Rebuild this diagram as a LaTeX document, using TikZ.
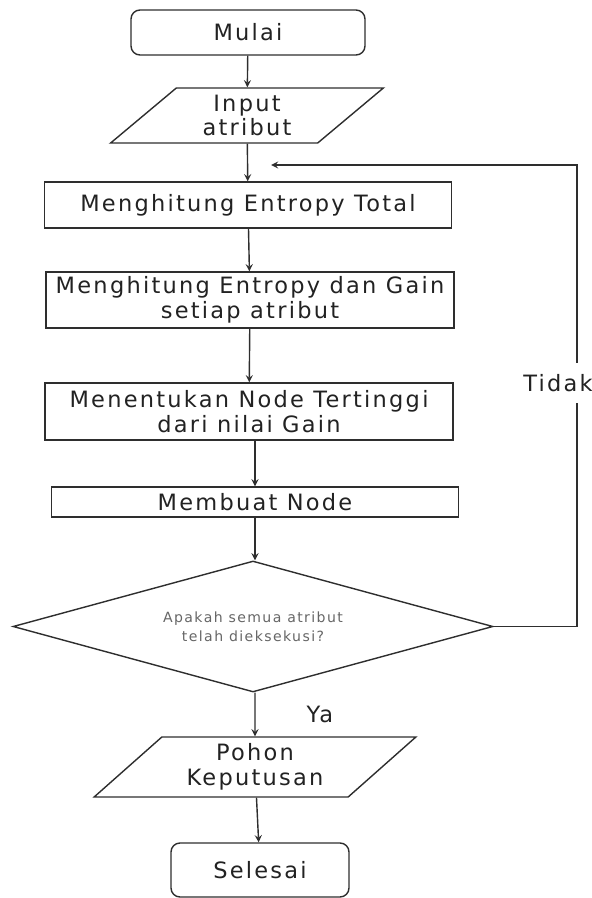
\documentclass[tikz,border=0pt]{standalone}
\usepackage{fontspec}
\setmainfont{DejaVu Sans}[LetterSpace=10]
\usepackage{xcolor}
\usepackage{tikz}
\usetikzlibrary{shapes.geometric}
\definecolor{ln}{HTML}{2E2E2E}
\definecolor{tx}{HTML}{222222}
\tikzset{term/.style={rectangle,rounded corners=0.18cm,draw=ln,line width=0.8pt,text=tx}}
\tikzset{blk/.style={rectangle,draw=ln,line width=0.8pt,text=tx,align=center,inner sep=0pt}}
\tikzset{io/.style={trapezium,trapezium stretches=true,trapezium left angle=45,trapezium right angle=135,draw=ln,line width=0.8pt,text=tx,align=center,inner sep=0pt}}
\tikzset{cond/.style={diamond,aspect=3.66,draw=ln,line width=0.8pt,text=black!60,align=center,inner sep=0pt,font=\fontsize{8}{10.8}\selectfont}}

\begin{document}
\begin{tikzpicture}[>=stealth,font=\fontsize{12.8}{14}\selectfont]
        \useasboundingbox (0,0) rectangle (11.84,-17.96);

        \node[term,minimum width=4.68cm,minimum height=0.9cm] (mulai) at (4.96,-0.65) {Mulai};
        \node[io,minimum width=5.48cm,minimum height=1.1cm] (input) at (4.94,-2.31) {Input\\atribut};
        \node[blk,minimum width=8.14cm,minimum height=0.92cm] (total) at (4.96,-4.1) {Menghitung Entropy Total};
        \node[blk,minimum width=8.16cm,minimum height=1.12cm] (gain) at (5.0,-6.0) {Menghitung Entropy dan Gain\\setiap atribut};
        \node[blk,minimum width=8.16cm,minimum height=1.14cm] (tinggi) at (4.98,-8.23) {Menentukan Node Tertinggi\\dari nilai Gain};
        \node[blk,minimum width=8.14cm,minimum height=0.6cm] (buat) at (5.1,-10.04) {Membuat Node};
        \node[cond,minimum width=9.6cm,minimum height=2.62cm] (cek) at (5.06,-12.53) {Apakah semua atribut\\telah dieksekusi?};
        \node[io,trapezium left angle=43,trapezium right angle=137,minimum width=6.44cm,minimum height=1.2cm] (pohon) at (5.1,-15.34) {Pohon\\Keputusan};
        \node[term,minimum width=3.56cm,minimum height=1.08cm] (selesai) at (5.2,-17.4) {Selesai};

        \coordinate (turn) at (11.54,-3.3);
        \coordinate (back) at (5.42,-3.3);

        \draw [->,ln,line width=0.8pt] (mulai) -- (input);
        \draw [->,ln,line width=0.8pt] (input) -- (total);
        \draw [->,ln,line width=0.8pt] (total) -- (gain);
        \draw [->,ln,line width=0.8pt] (gain) -- (tinggi);
        \draw [->,ln,line width=0.8pt] (tinggi.south -| buat) -- (buat);
        \draw [->,ln,line width=0.8pt] (buat) -- (buat |- cek.north);
        \draw [->,ln,line width=0.8pt] (buat |- cek.south) -- node[right=0.9cm,text=tx]{Ya} (pohon);
        \draw [->,ln,line width=0.8pt] (pohon) -- (selesai);
        \draw [->,ln,line width=0.8pt] (cek.east) -| node[pos=0.764,fill=white,xshift=-0.38cm,minimum height=0.8cm,text=tx]{Tidak} (turn) -- (back);
    \end{tikzpicture}
\end{document}
